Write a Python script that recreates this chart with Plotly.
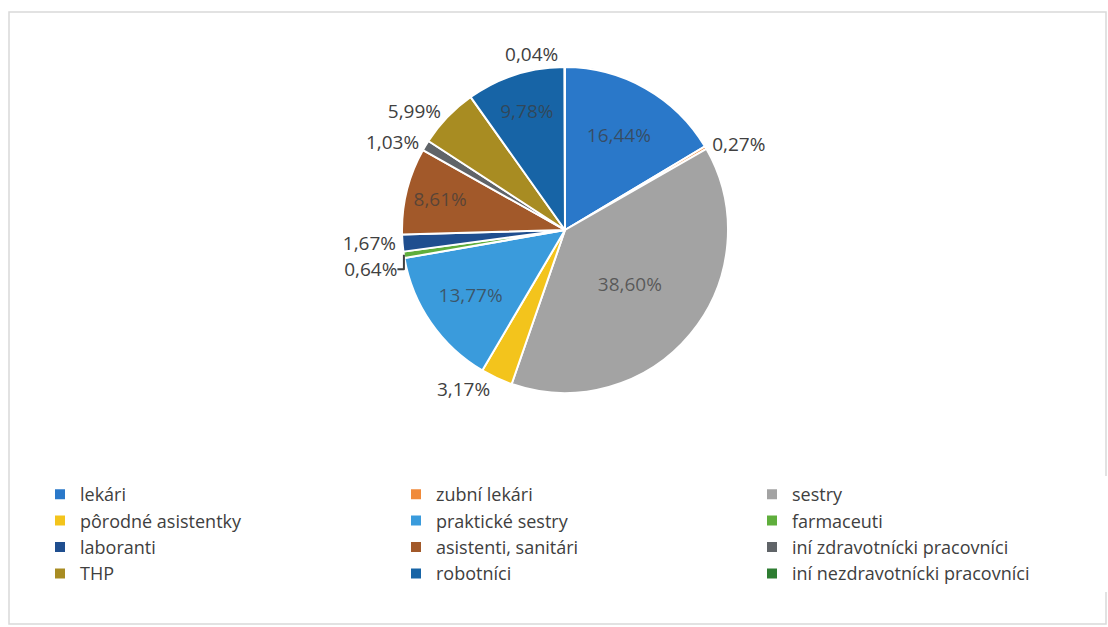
import plotly.graph_objects as go

categories = ["lekári", "zubní lekári", "sestry", "pôrodné asistentky", "praktické sestry",
              "farmaceuti", "laboranti", "asistenti, sanitári", "iní zdravotnícki pracovníci",
              "THP", "robotníci", "iní nezdravotnícki pracovníci"]
shares = [16.44, 0.27, 38.60, 3.17, 13.77, 0.64, 1.67, 8.61, 1.03, 5.99, 9.78, 0.04]
colors = ["#2a78c9", "#f08a3a", "#a3a3a3", "#f3c41c", "#3a9bdc", "#5fae3c",
          "#1f4e8f", "#a2592a", "#606468", "#a88c22", "#1764a6", "#2e7d32"]
label_pos = ["inside", "outside", "inside", "outside", "inside", "outside",
             "outside", "inside", "outside", "outside", "inside", "outside"]

W, H = 1108, 627
cx, cy, r = 565, 230, 163
FONT = "Open Sans"

fig = go.Figure(go.Pie(
    labels=categories,
    values=shares,
    sort=False,
    direction="clockwise",
    rotation=0,
    marker=dict(colors=colors, line=dict(color="white", width=2)),
    textposition=label_pos,
    texttemplate="%{value:.2f}%",
    insidetextorientation="horizontal",
    insidetextfont=dict(color="rgba(60,60,60,0.72)", size=19, family=FONT),
    outsidetextfont=dict(color="#404040", size=19, family=FONT),
    domain=dict(x=[(cx - r) / W, (cx + r) / W], y=[(H - cy - r) / H, (H - cy + r) / H]),
    hoverinfo="label+percent",
))

fig.update_layout(
    width=W, height=H,
    margin=dict(l=0, r=0, t=0, b=0),
    paper_bgcolor="white",
    separators=", ",
    font=dict(family=FONT, size=18, color="#404040"),
    showlegend=True,
    legend=dict(orientation="h", x=50 / W, xanchor="left", y=(H - 476) / H, yanchor="top",
                entrywidth=311, entrywidthmode="pixels", traceorder="normal",
                font=dict(family=FONT, size=18, color="#404040"), itemwidth=30),
    shapes=[dict(type="rect", xref="paper", yref="paper",
                 x0=9 / W, x1=1106 / W, y0=3 / H, y1=(H - 12) / H,
                 line=dict(color="#d9d9d9", width=1.5), fillcolor="rgba(0,0,0,0)")],
)

fig.write_html("out.html", config={"displayModeBar": False},
               post_script="document.body.style.margin='0';document.body.style.padding='0';")
